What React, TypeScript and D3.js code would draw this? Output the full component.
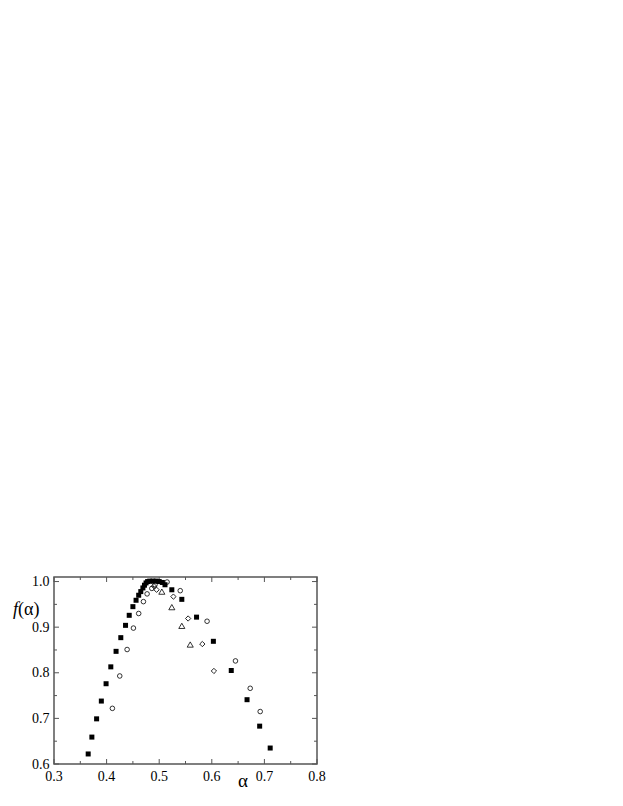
import { useRef, useEffect } from 'react'
import * as d3 from 'd3'

// filled squares
const SQ_A = [0.365, 0.372, 0.381, 0.390, 0.399, 0.408, 0.418, 0.427, 0.436, 0.443, 0.450, 0.456, 0.461, 0.465, 0.469, 0.472, 0.475, 0.478, 0.482, 0.488, 0.494, 0.500, 0.506, 0.511, 0.524, 0.543, 0.571, 0.603, 0.637, 0.667, 0.691, 0.711]
const SQ_F = [0.622, 0.659, 0.699, 0.738, 0.776, 0.813, 0.847, 0.877, 0.904, 0.926, 0.945, 0.959, 0.970, 0.978, 0.986, 0.992, 0.997, 1.000, 1.001, 1.001, 1.001, 1.000, 0.998, 0.993, 0.982, 0.961, 0.922, 0.869, 0.805, 0.741, 0.683, 0.635]

// open circles
const CI_A = [0.411, 0.425, 0.439, 0.451, 0.461, 0.470, 0.477, 0.486, 0.492, 0.515, 0.540, 0.591, 0.645, 0.673, 0.692]
const CI_F = [0.722, 0.793, 0.851, 0.898, 0.930, 0.956, 0.973, 0.985, 0.993, 0.999, 0.980, 0.913, 0.826, 0.766, 0.715]

// open triangles
const TR_A = [0.505, 0.524, 0.543, 0.559]
const TR_F = [0.976, 0.942, 0.901, 0.860]

// open diamonds
const DI_A = [0.490, 0.495, 0.527, 0.555, 0.582, 0.604]
const DI_F = [0.990, 0.982, 0.967, 0.919, 0.863, 0.804]

const X_TICKS = [0.3, 0.4, 0.5, 0.6, 0.7, 0.8]
const Y_TICKS = [0.6, 0.7, 0.8, 0.9, 1.0]

const W = 623
const H = 806
const FONT = '"Liberation Serif", "DejaVu Serif", serif'

export default function App() {
  const svgRef = useRef<SVGSVGElement>(null)

  useEffect(() => {
    if (!svgRef.current) return
    const svg = d3.select(svgRef.current)
    svg.selectAll('*').remove()

    const left = 54, right = 317, top = 577, bottom = 764
    const x = d3.scaleLinear().domain([0.3, 0.8]).range([left, right])
    const y = d3.scaleLinear().domain([0.6, 1.01]).range([bottom, top])

    const frameColor = '#555'

    svg.append('clipPath').attr('id', 'plot-clip')
      .append('rect').attr('x', left).attr('y', top - 3).attr('width', right - left).attr('height', bottom - top + 3)

    const xMinor = d3.range(0.35, 0.8, 0.1)
    const yMinor = d3.range(0.65, 1.0, 0.1)

    const ticks = svg.append('g').attr('stroke', frameColor).attr('stroke-width', 1)
    X_TICKS.forEach(v => {
      ticks.append('line').attr('x1', x(v)).attr('x2', x(v)).attr('y1', bottom).attr('y2', bottom - 5)
      ticks.append('line').attr('x1', x(v)).attr('x2', x(v)).attr('y1', top).attr('y2', top + 5)
    })
    xMinor.forEach(v => {
      ticks.append('line').attr('x1', x(v)).attr('x2', x(v)).attr('y1', bottom).attr('y2', bottom - 3)
      ticks.append('line').attr('x1', x(v)).attr('x2', x(v)).attr('y1', top).attr('y2', top + 3)
    })
    Y_TICKS.forEach(v => {
      ticks.append('line').attr('x1', left).attr('x2', left + 5).attr('y1', y(v)).attr('y2', y(v))
      ticks.append('line').attr('x1', right).attr('x2', right - 5).attr('y1', y(v)).attr('y2', y(v))
    })
    yMinor.forEach(v => {
      ticks.append('line').attr('x1', left).attr('x2', left + 3).attr('y1', y(v)).attr('y2', y(v))
      ticks.append('line').attr('x1', right).attr('x2', right - 3).attr('y1', y(v)).attr('y2', y(v))
    })

    svg.append('rect')
      .attr('x', left).attr('y', top)
      .attr('width', right - left).attr('height', bottom - top)
      .attr('fill', 'none').attr('stroke', frameColor).attr('stroke-width', 1.5)

    const fmt = d3.format('.1f')
    svg.append('g').selectAll('text').data(X_TICKS).join('text')
      .attr('x', d => x(d)).attr('y', bottom + 17)
      .attr('text-anchor', 'middle')
      .attr('font-family', FONT).attr('font-size', 14)
      .text(d => fmt(d))
    svg.append('g').selectAll('text').data(Y_TICKS).join('text')
      .attr('x', left - 4.5).attr('y', d => y(d) + 4.5)
      .attr('text-anchor', 'end')
      .attr('font-family', FONT).attr('font-size', 14)
      .text(d => fmt(d))

    svg.append('text')
      .attr('x', 238).attr('y', 787)
      .attr('font-family', FONT).attr('font-size', 19)
      .text('α')

    const fl = svg.append('text')
      .attr('x', 13).attr('y', 615)
      .attr('font-family', FONT).attr('font-size', 18)
    fl.append('tspan').attr('font-style', 'italic').text('f')
    fl.append('tspan').text('(α)')

    const plot = svg.append('g').attr('clip-path', 'url(#plot-clip)')

    const sq = d3.zip(SQ_A, SQ_F)
    plot.append('g').selectAll('rect').data(sq).join('rect')
      .attr('x', d => x(d[0]) - 2.5).attr('y', d => y(d[1]) - 2.5)
      .attr('width', 5).attr('height', 5)
      .attr('fill', '#000')

    const ci = d3.zip(CI_A, CI_F)
    plot.append('g').selectAll('circle').data(ci).join('circle')
      .attr('cx', d => x(d[0])).attr('cy', d => y(d[1])).attr('r', 2.3)
      .attr('fill', 'none').attr('stroke', '#000').attr('stroke-width', 0.8)

    const tri = d3.symbol().type(d3.symbolTriangle).size(16)
    const tr = d3.zip(TR_A, TR_F)
    plot.append('g').selectAll('path').data(tr).join('path')
      .attr('d', tri)
      .attr('transform', d => `translate(${x(d[0])},${y(d[1])})`)
      .attr('fill', 'none').attr('stroke', '#000').attr('stroke-width', 0.8)

    // diamonds as squares turned 45 degrees
    const dia = d3.symbol().type(d3.symbolSquare).size(14)
    const di = d3.zip(DI_A, DI_F)
    plot.append('g').selectAll('path').data(di).join('path')
      .attr('d', dia)
      .attr('transform', d => `translate(${x(d[0])},${y(d[1])}) rotate(45)`)
      .attr('fill', 'none').attr('stroke', '#000').attr('stroke-width', 0.8)
  }, [])

  return (
    <div style={{ position: 'fixed', left: 0, top: 0, width: W, height: H, background: '#fff' }}>
      <svg ref={svgRef} width={W} height={H} style={{ display: 'block' }} />
    </div>
  )
}
